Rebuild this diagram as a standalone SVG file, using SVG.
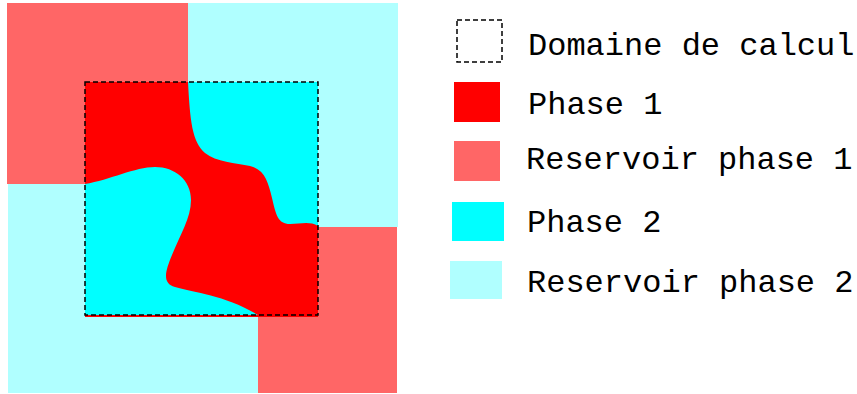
<svg xmlns="http://www.w3.org/2000/svg" width="857" height="394" viewBox="0 0 857 394">
<style>
.r1{fill:#ff0000}
.rs1{fill:#ff6666}
.p2{fill:#00ffff}
.rs2{fill:#b0ffff}
.dash{fill:none;stroke:#000;stroke-width:1.5;stroke-dasharray:5,3}
.lbl{font-family:"Liberation Mono","Courier New",monospace;font-size:32px;fill:#000}
</style>
<rect width="857" height="394" fill="#fff"/>
<g id="reservoirs">
<rect class="rs1" x="7" y="3" width="181" height="181"/>
<rect class="rs2" x="188" y="3" width="210" height="224"/>
<rect class="rs1" x="258" y="227" width="139" height="166"/>
<rect class="rs2" x="8" y="184" width="250" height="209"/>
</g>
<g id="domain">
<rect class="r1" x="85" y="82" width="233" height="235"/>
<path class="p2" d="M188,82 C190,120 192,142 205,153 C216,162 236,163 250,166 C265,170 268,182 272,198 C276,215 278,224 290,224 C300,224 310,221 318,226 L318,82 Z"/>
<path class="p2" d="M85,184 C110,180 135,167 155,167 C175,167 191,180 191,200 C191,218 180,235 172,255 C165,272 162,283 175,287 C195,293 225,295 258,315 L85,315 Z"/>
<rect class="dash" x="85" y="82" width="233" height="233"/>
</g>
<g id="legend-domaine">
<rect class="dash" x="457" y="20" width="45" height="42"/>
<text class="lbl" x="528" y="55">Domaine de calcul</text>
</g>
<g id="legend-phase1">
<rect class="r1" x="454" y="82" width="46" height="40"/>
<text class="lbl" x="528" y="114">Phase 1</text>
</g>
<g id="legend-reservoir1">
<rect class="rs1" x="454" y="141" width="46" height="40"/>
<text class="lbl" x="526" y="169">Reservoir phase 1</text>
</g>
<g id="legend-phase2">
<rect class="p2" x="452" y="202" width="52" height="39"/>
<text class="lbl" x="527" y="232">Phase 2</text>
</g>
<g id="legend-reservoir2">
<rect class="rs2" x="450" y="261" width="52" height="38"/>
<text class="lbl" x="527" y="292">Reservoir phase 2</text>
</g>
</svg>
